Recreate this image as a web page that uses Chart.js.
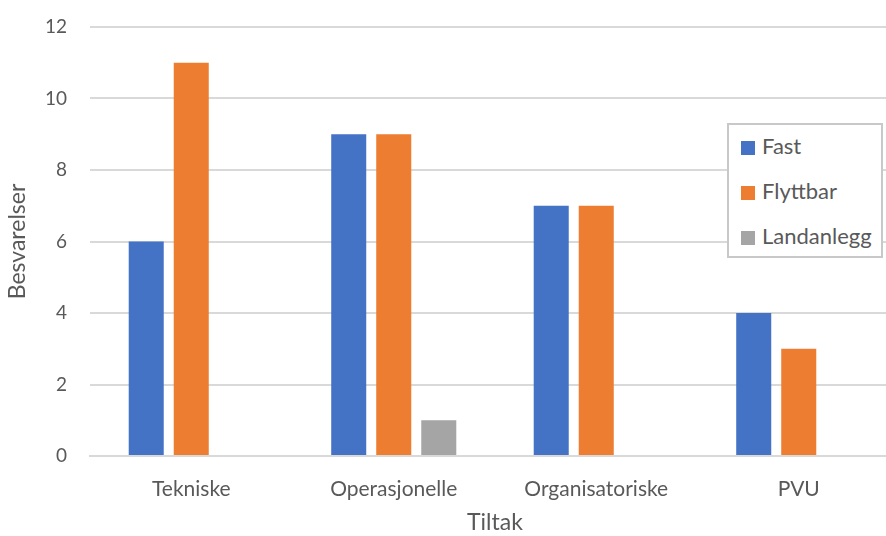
<!DOCTYPE html>
<html>
<head>
<meta charset="utf-8">
<script src="https://cdn.jsdelivr.net/npm/chart.js@4.4.1/dist/chart.umd.min.js"></script>
<style>
  html, body { margin: 0; padding: 0; background: #fff; }
  #wrap { position: relative; width: 886px; height: 536px; overflow: hidden; }
  #legend {
    position: absolute; left: 727px; top: 123px; width: 156px; height: 135px;
    background: #fff; border: 2px solid #c8c8c8; box-sizing: border-box;
    font-family: Lato, "Open Sans", sans-serif; font-size: 22px; color: #595959;
  }
  #legend div { position: absolute; left: 12px; height: 26px; line-height: 26px; white-space: nowrap; }
  #legend span { display: inline-block; width: 14px; height: 14px; margin-right: 7px; vertical-align: -1px; }
</style>
</head>
<body>
<div id="wrap">
  <canvas id="chart" width="900" height="536"></canvas>
  <div id="legend"></div>
</div>
<script>
const kategorier = ['Tekniske', 'Operasjonelle', 'Organisatoriske', 'PVU']
const fast = [6, 9, 7, 4]
const flyttbar = [11, 9, 7, 3]
const landanlegg = [0, 1, 0, 0]
const serier = ['Fast', 'Flyttbar', 'Landanlegg']
const farger = ['#4472C4', '#ED7D31', '#A5A5A5']

const font = 'Lato, "Open Sans", sans-serif'
const tekst = '#595959'

const datasets = [fast, flyttbar, landanlegg].map((d, i) => ({
    label: serier[i],
    data: d,
    backgroundColor: farger[i],
    borderWidth: 0,
    categoryPercentage: 0.667,
    barPercentage: 0.778
}))

const chart = new Chart(document.getElementById('chart').getContext('2d'), {
    type: 'bar',
    data: { labels: kategorier, datasets },
    options: {
        responsive: false,
        animation: false,
        layout: { padding: { left: 0, right: 0, top: 0, bottom: 0 } },
        plugins: { legend: { display: false }, tooltip: { enabled: false } },
        scales: {
            x: {
                grid: { display: false, drawTicks: false },
                border: { display: true, color: '#d9d9d9', width: 2 },
                ticks: { color: tekst, font: { family: font, size: 21 }, padding: 21 },
                title: { display: true, text: 'Tiltak', color: tekst, font: { family: font, size: 23 }, padding: { top: 2, bottom: 0 } },
                afterFit: s => { s.height = 80 }
            },
            y: {
                min: 0, max: 12,
                grid: { color: '#d9d9d9', lineWidth: 2, drawTicks: false },
                border: { display: false },
                ticks: { stepSize: 2, color: tekst, font: { family: font, size: 19 }, padding: 23 },
                title: { display: true, text: 'Besvarelser', color: tekst, font: { family: font, size: 23 }, padding: { top: 4, bottom: 0 } },
                afterFit: s => { s.width = 90 }
            }
        }
    },
    plugins: [{
        // plottområdet starter ved y=27 som i originalen
        id: 'toppkant',
        afterLayout: c => {
            const y = c.scales.y
            const topp = 27
            c.chartArea.top = topp
            y.top = topp
            y.height = y.bottom - topp
            y.configure()
        }
    }]
})

// Legende i boks inne i plottet
const legend = document.getElementById('legend')
serier.forEach((navn, i) => {
    const rad = document.createElement('div')
    rad.style.top = (8 + i * 45) + 'px'
    rad.innerHTML = '<span style="background:' + farger[i] + '"></span>' + navn
    legend.appendChild(rad)
})
</script>
</body>
</html>
